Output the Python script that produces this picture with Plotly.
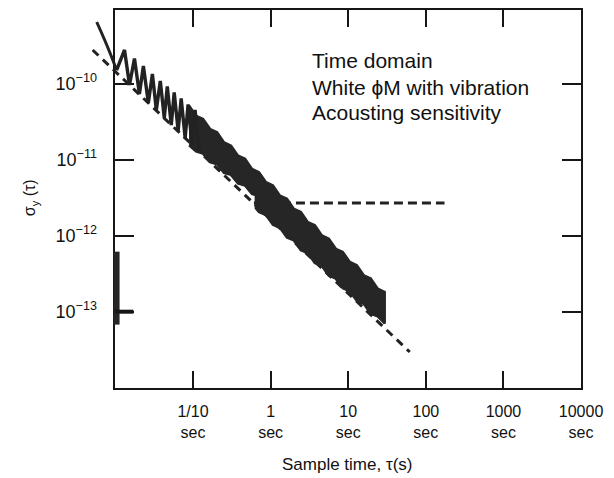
import plotly.graph_objects as go

# ---------------- data ----------------
# steep solid curve entering at the upper-left corner
arc_tau = [0.00575, 0.00728, 0.00895, 0.01038]
arc_sigma = [6.49e-10, 3.76e-10, 2.25e-10, 1.51e-10]

# zig-zag (vibration) part of the measured curve, short tau
zig_tau = [0.01038, 0.01312, 0.01521, 0.01762, 0.02042, 0.02296, 0.02661,
           0.02999, 0.03373, 0.03793, 0.04266, 0.04667, 0.05248, 0.05728,
           0.06442, 0.07047, 0.07925, 0.08650, 0.09750, 0.1064, 0.1197]
zig_sigma = [1.51e-10, 2.78e-10, 9.62e-11, 2.15e-10, 7.33e-11, 1.71e-10,
             5.57e-11, 1.34e-10, 4.51e-11, 1.09e-10, 3.54e-11, 9.19e-11,
             2.86e-11, 7.66e-11, 2.39e-11, 6.40e-11, 1.93e-11, 5.33e-11,
             1.56e-11, 4.51e-11, 1.30e-11]

# dense band (teeth merged), upper edge left -> right
band_upper_tau = [0.0891, 0.1096, 0.1349, 0.1660, 0.2042, 0.2512, 0.3090,
                  0.3802, 0.4677, 0.5754, 0.7079, 0.8710, 1.072, 1.318,
                  1.622, 1.995, 2.455, 3.020, 3.715, 4.571, 5.623, 6.918,
                  8.511, 10.47, 12.88, 15.85, 19.50, 23.99, 29.51, 29.51]
band_upper_sigma = [5.14e-11, 3.78e-11, 3.44e-11, 2.53e-11, 2.30e-11,
                    1.69e-11, 1.53e-11, 1.13e-11, 1.026e-11, 7.55e-12,
                    6.86e-12, 5.05e-12, 4.58e-12, 3.37e-12, 3.06e-12,
                    2.25e-12, 2.05e-12, 1.51e-12, 1.37e-12, 1.01e-12,
                    9.14e-13, 6.73e-13, 6.11e-13, 4.51e-13, 4.08e-13,
                    3.01e-13, 2.73e-13, 2.01e-13, 1.82e-13, 7.0e-14]
# lower edge right -> left
band_lower_tau = [23.99, 19.50, 15.85, 12.88, 10.47, 8.511, 6.918, 5.623,
                  4.571, 3.715, 3.020, 2.455, 1.995, 1.622, 1.318, 1.072,
                  0.8710, 0.7079, 0.646, 0.646, 0.5754, 0.4677, 0.3802,
                  0.3090, 0.2512, 0.2042, 0.1660, 0.1349, 0.1096, 0.0891]
band_lower_sigma = [8.7e-14, 9.4e-14, 1.27e-13, 1.39e-13, 1.86e-13,
                    2.03e-13, 2.72e-13, 2.99e-13, 4.00e-13, 4.39e-13,
                    5.88e-13, 6.46e-13, 8.66e-13, 9.50e-13, 1.27e-12,
                    1.39e-12, 1.87e-12, 2.05e-12, 2.30e-12, 3.42e-12,
                    3.55e-12, 4.58e-12, 4.86e-12, 6.32e-12, 6.72e-12,
                    8.70e-12, 9.25e-12, 1.20e-11, 1.29e-11, 1.55e-11]

# dashed white-PM asymptote (slope about -1)
slope_tau = [0.0051, 62.1]
slope_sigma = [2.78e-10, 2.95e-14]

# dashed flat (flicker floor) line
flat_tau = [0.61, 174.0]
flat_sigma = [2.7e-12, 2.7e-12]

x_tick_vals = [0.1, 1, 10, 100, 1000, 10000]
x_tick_text = ["1/10<br>sec", "1<br>sec", "10<br>sec", "100<br>sec",
               "1000<br>sec", "10000<br>sec"]
y_tick_vals = [1e-10, 1e-11, 1e-12, 1e-13]
y_tick_text = ["10<sup>\u221210</sup>", "10<sup>\u221211</sup>",
               "10<sup>\u221212</sup>", "10<sup>\u221213</sup>"]

note_lines = ["Time domain", "White \u03d5M with vibration",
              "Acousting sensitivity"]

# ---------------- layout geometry ----------------
W, H = 614, 478
ML, MR, MT, MB = 60, 20, 2, 80
PW, PH = W - ML - MR, H - MT - MB
FL, FR, FT, FB = 115, 585, 10, 388          # frame in pixels
XR = [-2.01, 4.0]
YR = [-14.004, -9.03]


def px(x):
    return (x - ML) / PW


def py(y):
    return (H - MB - y) / PH


xpd = (FR - FL) / (XR[1] - XR[0])
ypd = (FB - FT) / (YR[1] - YR[0])
X2R = [XR[0] - (FL - ML) / xpd, XR[1] + (ML + PW - FR) / xpd]
Y2R = [YR[0] - (MT + PH - FB) / ypd, YR[1] + (FT - MT) / ypd]

INK = "#161616"
DARK = "#222222"
FONT = "Liberation Sans, Arial, Helvetica, sans-serif"

fig = go.Figure()

# flat dashed line sits under the band
fig.add_trace(go.Scatter(
    x=flat_tau, y=flat_sigma, mode="lines",
    line=dict(color=DARK, width=3, dash="9px,5px"), showlegend=False,
    xaxis="x", yaxis="y"))

fig.add_trace(go.Scatter(
    x=slope_tau, y=slope_sigma, mode="lines",
    line=dict(color=DARK, width=3, dash="8px,6px"), showlegend=False,
    xaxis="x2", yaxis="y2"))

fig.add_trace(go.Scatter(
    x=arc_tau, y=arc_sigma, mode="lines", line_shape="spline",
    line=dict(color=DARK, width=3), showlegend=False,
    xaxis="x2", yaxis="y2"))

fig.add_trace(go.Scatter(
    x=band_upper_tau + band_lower_tau,
    y=band_upper_sigma + band_lower_sigma,
    fill="toself", fillcolor="#262626", mode="lines",
    line=dict(color="#262626", width=2.5), hoverinfo="skip",
    showlegend=False, xaxis="x2", yaxis="y2"))

fig.add_trace(go.Scatter(
    x=zig_tau, y=zig_sigma, mode="lines",
    line=dict(color=DARK, width=3.4), showlegend=False,
    xaxis="x2", yaxis="y2"))

axis_common = dict(
    type="log", showline=True, linewidth=2, linecolor=INK, mirror="ticks",
    ticks="inside", tickwidth=2, tickcolor=INK, showgrid=False,
    zeroline=False, tickfont=dict(family=FONT, size=16, color="#111"))

fig.update_layout(
    width=W, height=H, margin=dict(l=ML, r=MR, t=MT, b=MB),
    paper_bgcolor="white", plot_bgcolor="rgba(0,0,0,0)",
    font=dict(family=FONT, color="#111"),
    xaxis=dict(axis_common, range=XR, domain=[px(FL), px(FR)], anchor="y",
               tickvals=x_tick_vals, ticktext=x_tick_text, ticklen=17,
               ticklabelstandoff=8),
    yaxis=dict(axis_common, range=YR, domain=[py(FB), py(FT)], anchor="x",
               tickvals=y_tick_vals, ticktext=y_tick_text, ticklen=19,
               ticklabelstandoff=12,
               tickfont=dict(family=FONT, size=18, color="#111")),
    xaxis2=dict(type="log", range=X2R, domain=[0, 1], anchor="y2",
                visible=False),
    yaxis2=dict(type="log", range=Y2R, domain=[0, 1], anchor="x2",
                visible=False),
)

# scan artefact: thick dark stroke along the left axis
fig.add_shape(type="line", xref="paper", yref="y",
              x0=px(FL + 2), x1=px(FL + 2), y0=10 ** -12.21, y1=10 ** -13.17,
              line=dict(color="#262626", width=6))
fig.add_shape(type="line", xref="paper", yref="y",
              x0=px(FL), x1=px(FL + 19), y0=1e-13, y1=1e-13,
              line=dict(color=INK, width=4))

for i, t in enumerate(note_lines):
    fig.add_annotation(text=t, xref="paper", yref="paper",
                       x=px(312), y=py([60, 88, 113][i]), xanchor="left",
                       yanchor="middle", showarrow=False,
                       font=dict(family=FONT, size=21, color="#111"))

fig.add_annotation(text="Sample time, \u03c4(s)", xref="paper", yref="paper",
                   x=px(349), y=py(465), xanchor="center", yanchor="middle",
                   showarrow=False, font=dict(family=FONT, size=17, color="#111"))
fig.add_annotation(text="\u03c3<sub>y</sub> (\u03c4)", xref="paper",
                   yref="paper", x=px(30), y=py(198), textangle=-90,
                   xanchor="center", yanchor="middle", showarrow=False,
                   font=dict(family=FONT, size=16, color="#111"))

fig.write_html("out.html",
               config={"displayModeBar": False},
               post_script="document.body.style.margin='0';"
                           "document.body.style.overflow='hidden';")
